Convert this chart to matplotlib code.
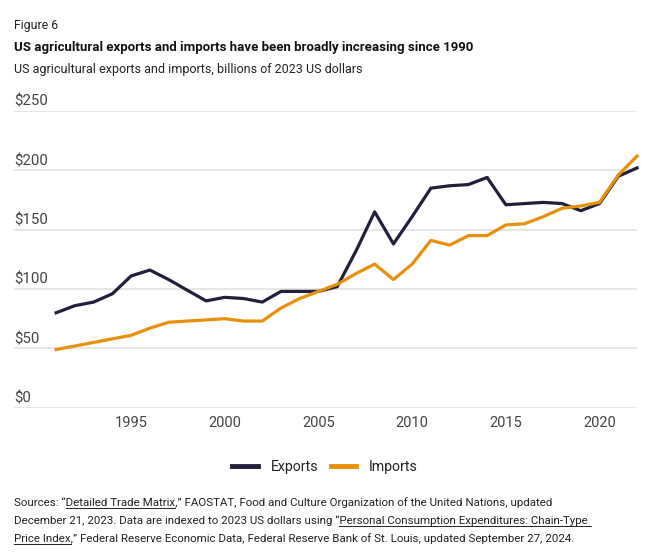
import numpy as np
import matplotlib
matplotlib.use("Agg")
import matplotlib.pyplot as plt
import matplotlib.transforms as mtransforms
from matplotlib.lines import Line2D

plt.rcParams['font.family'] = ['Roboto', 'DejaVu Sans']

# data (billions of 2023 US dollars)
years = list(range(1991, 2023))
exports = [80, 86, 89, 96, 111, 116, 108, 99, 90, 93, 92, 89, 98, 98, 98,
           102, 132, 165, 138, 161, 185, 187, 188, 194, 171, 172, 173, 172,
           166, 172, 195, 202]
imports = [49, 52, 55, 58, 61, 67, 72, 73, 74, 75, 73, 73, 84, 92, 98,
           104, 113, 121, 108, 121, 141, 137, 145, 145, 154, 155, 161, 168,
           170, 173, 196, 212]
yticks = [0, 50, 100, 150, 200, 250]
ytick_labels = ['$0', '$50', '$100', '$150', '$200', '$250']
xticks = [1995, 2000, 2005, 2010, 2015, 2020]

c_exp = '#221f3b'
c_imp = '#e8900c'
c_grid = '#e3e3e3'
c_text = '#222222'

W, H = 650, 555
fig = plt.figure(figsize=(6.5, 5.55), dpi=100)
ax = fig.add_axes([14 / W, 1 - 407.7 / H, (637 - 14) / W, (407.7 - 111) / H])

ax.plot(years, exports, color=c_exp, lw=2.3, label='Exports', clip_on=False, zorder=3)
ax.plot(years, imports, color=c_imp, lw=2.3, label='Imports', clip_on=False, zorder=4)

ax.set_xlim(1988.75, 2022)
ax.set_ylim(0, 250)
ax.set_yticks(yticks)
ax.set_yticklabels([])
ax.set_xticks(xticks)
ax.set_xticklabels([str(x) for x in xticks], fontsize=10.5, color='#444444')
ax.tick_params(axis='x', length=0, pad=6)
ax.tick_params(axis='y', length=0)
ax.grid(axis='y', color=c_grid, lw=1.2)
ax.set_axisbelow(True)
for s in ax.spines.values():
    s.set_visible(False)

# y labels sit above the gridlines, left aligned
trans = mtransforms.offset_copy(ax.get_yaxis_transform(), fig=fig, x=0, y=6.5, units='points')
for v, lab in zip(yticks, ytick_labels):
    ax.text(0, v, lab, transform=trans, ha='left', va='center', fontsize=10.8, color='#444444')

# header
fig.text(14 / W, 1 - 25 / H, 'Figure 6', fontsize=8.8, color=c_text, va='center')
fig.text(14 / W, 1 - 48 / H,
         'US agricultural exports and imports have been broadly increasing since 1990',
         fontsize=9.5, fontweight='bold', color='#111111', va='center')
fig.text(14 / W, 1 - 70 / H,
         'US agricultural exports and imports, billions of 2023 US dollars',
         fontsize=9, color=c_text, va='center')

# legend
handles = [Line2D([], [], color=c_exp, lw=3.5), Line2D([], [], color=c_imp, lw=3.5)]
fig.legend(handles, ['Exports', 'Imports'], loc='center', bbox_to_anchor=(325 / W, 1 - 466.5 / H),
           ncol=2, frameon=False, fontsize=10.2, handlelength=1.8, handletextpad=0.9,
           columnspacing=0.9, labelcolor=c_text)

# sources, with underlined links
src_lines = [
    ('Sources: \u201cDetailed Trade Matrix,\u201d FAOSTAT, Food and Culture Organization of the United Nations, updated',
     'Sources: \u201c', 'Detailed Trade Matrix'),
    ('December 21, 2023. Data are indexed to 2023 US dollars using \u201cPersonal Consumption Expenditures: Chain-Type ',
     'December 21, 2023. Data are indexed to 2023 US dollars using \u201c', 'Personal Consumption Expenditures: Chain-Type '),
    ('Price Index,\u201d Federal Reserve Economic Data, Federal Reserve Bank of St. Louis, updated September 27, 2024.',
     '', 'Price Index'),
]
src_y = [506, 524, 541.5]
src_size = 8.25
renderer = fig.canvas.get_renderer()
x0 = 14


def width(s):
    if not s:
        return 0
    t = fig.text(0, 0, s, fontsize=src_size)
    w = t.get_window_extent(renderer).width
    t.remove()
    return w


for (line, pre, und), yb in zip(src_lines, src_y):
    fig.text(x0 / W, 1 - yb / H, line, fontsize=src_size, color=c_text, va='baseline')
    xa = x0 + width(pre)
    xb = x0 + width(pre + und)
    fig.add_artist(Line2D([xa / W, xb / W], [1 - (yb + 2) / H] * 2, transform=fig.transFigure,
                          color=c_text, lw=0.7))

fig.savefig('out.png', dpi=100)
